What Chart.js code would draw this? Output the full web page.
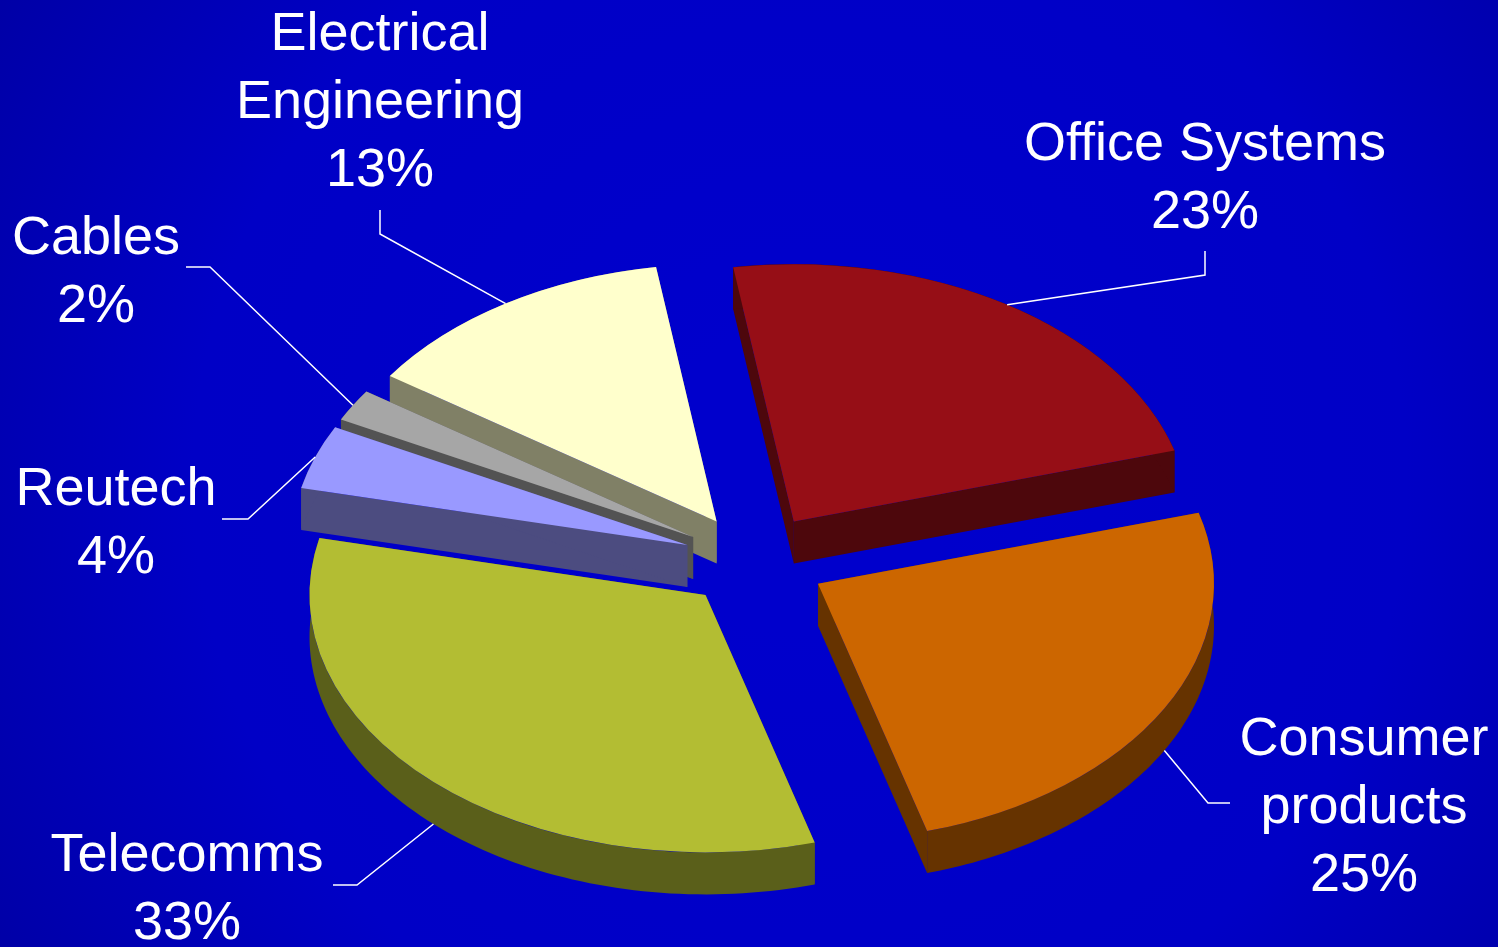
<!DOCTYPE html>
<html lang="en">
<head>
    <meta charset="UTF-8">
    <title>Sales by Division</title>
    <script src="https://cdn.jsdelivr.net/npm/chart.js"></script>
    <style>
        html, body { margin: 0; padding: 0; overflow: hidden; background: #0000c0; }
        canvas { display: block; }
    </style>
</head>
<body>
    <canvas id="divisionChart" width="1498" height="947"></canvas>

    <script>
        // Share of group sales per division (%), clockwise from the top
        const divisions = ['Office Systems', 'Consumer products', 'Telecomms', 'Reutech', 'Cables', 'Electrical Engineering'];
        const shares = [23, 25, 33, 4, 2, 13];
        // how each name is broken over lines in its label
        const labelLines = [['Office Systems'], ['Consumer', 'products'], ['Telecomms'], ['Reutech'], ['Cables'], ['Electrical', 'Engineering']];

        const topColors = ['#960E16', '#CC6600', '#B3BD33', '#9999FF', '#A6A6A6', '#FFFFCC'];
        const sideColors = ['#4D070C', '#663300', '#5A5F1A', '#4C4C80', '#535353', '#808066'];

        // label text position + leader line (text end, elbow); the line then runs to the slice
        const labelLayout = [
            { x: 1205, y: 160, from: [1205, 251], elbow: [1205, 275] },
            { x: 1364, y: 755, from: [1230, 803], elbow: [1208, 803] },
            { x: 187, y: 871, from: [333, 885], elbow: [357, 885] },
            { x: 116, y: 505, from: [222, 519], elbow: [248, 519] },
            { x: 96, y: 254, from: [186, 267], elbow: [210, 267] },
            { x: 380, y: 50, from: [380, 210], elbow: [380, 234] }
        ];

        const TILT = 0.65;     // vertical squash of the pie
        const DEPTH = 42;      // thickness of the slices (px)
        const EXPLODE = 72;    // how far every slice is pulled out
        const LINE_HEIGHT = 68;

        const midAngle = a => (a.startAngle + a.endAngle) / 2;

        // tilted, exploded pie with thickness, drawn from the arc elements
        const pie3d = {
            id: 'pie3d',
            beforeDraw(chart) {
                const { ctx, width, height } = chart;
                const g = ctx.createRadialGradient(800, 480, 150, 800, 480, 980);
                g.addColorStop(0, '#0000CC');
                g.addColorStop(0.55, '#0000C6');
                g.addColorStop(1, '#0000A2');
                ctx.save();
                ctx.fillStyle = g;
                ctx.fillRect(0, 0, width, height);
                ctx.restore();
            },
            beforeDatasetsDraw(chart) {
                const ctx = chart.ctx;
                const arcs = chart.getDatasetMeta(0).data;
                const cx = arcs[0].x, cy = arcs[0].y;

                // screen point of a pie-plane point, dropped by dy
                const pt = (x, y, dy) => [x, cy + TILT * (y - cy) + dy];

                // side walls, back to front
                const order = arcs.map((a, i) => i)
                    .sort((i, j) => Math.sin(midAngle(arcs[i])) - Math.sin(midAngle(arcs[j])));
                order.forEach(i => {
                    const a = arcs[i], m = midAngle(a);
                    const x0 = a.x + Math.cos(m) * EXPLODE, y0 = a.y + Math.sin(m) * EXPLODE;
                    const r = a.outerRadius;
                    ctx.fillStyle = sideColors[i];

                    // radial walls
                    [a.startAngle, a.endAngle].forEach(e => {
                        const xr = x0 + Math.cos(e) * r, yr = y0 + Math.sin(e) * r;
                        const p = [pt(x0, y0, 0), pt(xr, yr, 0), pt(xr, yr, DEPTH), pt(x0, y0, DEPTH)];
                        ctx.beginPath();
                        p.forEach((q, k) => k ? ctx.lineTo(q[0], q[1]) : ctx.moveTo(q[0], q[1]));
                        ctx.closePath();
                        ctx.fill();
                    });

                    // outer wall
                    const steps = 90;
                    const rim = [];
                    for (let s = 0; s <= steps; s++) {
                        const t = a.startAngle + (a.endAngle - a.startAngle) * s / steps;
                        rim.push([x0 + Math.cos(t) * r, y0 + Math.sin(t) * r]);
                    }
                    ctx.beginPath();
                    rim.forEach((q, k) => {
                        const p = pt(q[0], q[1], 0);
                        k ? ctx.lineTo(p[0], p[1]) : ctx.moveTo(p[0], p[1]);
                    });
                    for (let k = rim.length - 1; k >= 0; k--) {
                        const p = pt(rim[k][0], rim[k][1], DEPTH);
                        ctx.lineTo(p[0], p[1]);
                    }
                    ctx.closePath();
                    ctx.fill();
                });

                // top faces
                arcs.forEach(a => {
                    const m = midAngle(a);
                    ctx.save();
                    ctx.translate(cx, cy);
                    ctx.scale(1, TILT);
                    ctx.translate(-cx, -cy);
                    ctx.translate(Math.cos(m) * EXPLODE, Math.sin(m) * EXPLODE);
                    a.draw(ctx);
                    ctx.restore();
                });
                return false;
            },
            afterDraw(chart) {
                const ctx = chart.ctx;
                const arcs = chart.getDatasetMeta(0).data;
                const cy = arcs[0].y;
                ctx.save();
                ctx.fillStyle = '#FFFFFF';
                ctx.strokeStyle = '#FFFFFF';
                ctx.lineWidth = 1.5;
                ctx.textAlign = 'center';
                ctx.textBaseline = 'alphabetic';
                ctx.font = '54px "Liberation Sans", Arial, sans-serif';
                arcs.forEach((a, i) => {
                    const pos = labelLayout[i];
                    const rows = labelLines[i].concat([shares[i] + '%']);
                    rows.forEach((t, r) => ctx.fillText(t, pos.x, pos.y + r * LINE_HEIGHT));

                    // leader to the rim of the slice (to the side wall on the front half)
                    const m = midAngle(a);
                    const rr = EXPLODE + a.outerRadius;
                    const ex = a.x + Math.cos(m) * rr;
                    let ey = cy + TILT * (a.y + Math.sin(m) * rr - cy);
                    if (Math.sin(m) > 0) ey += DEPTH;
                    ctx.beginPath();
                    ctx.moveTo(pos.from[0], pos.from[1]);
                    ctx.lineTo(pos.elbow[0], pos.elbow[1]);
                    ctx.lineTo(ex, ey);
                    ctx.stroke();
                });
                ctx.restore();
            }
        };

        new Chart(document.getElementById('divisionChart'), {
            type: 'pie',
            data: {
                labels: divisions,
                datasets: [{
                    data: shares,
                    backgroundColor: topColors,
                    borderWidth: 0,
                    offset: 0,
                    hoverOffset: 0,
                    radius: 396
                }]
            },
            options: {
                responsive: false,
                animation: false,
                rotation: -8.8,
                layout: { padding: { left: 12, top: 175, right: 0, bottom: 0 } },
                events: [],
                plugins: {
                    legend: { display: false },
                    tooltip: { enabled: false }
                }
            },
            plugins: [pie3d]
        });
    </script>
</body>
</html>
